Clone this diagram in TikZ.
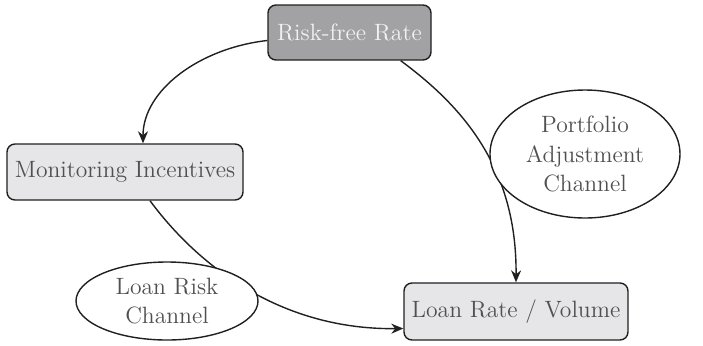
\documentclass[tikz,border=0pt]{standalone}
\usetikzlibrary{calc,shapes.geometric,arrows.meta}
\definecolor{txtgray}{HTML}{505050}
\definecolor{darkfill}{HTML}{A2A2A4}
\definecolor{lightfill}{HTML}{E6E6E8}
\definecolor{edge}{HTML}{202020}
\tikzset{
  box/.style={draw=edge, line width=0.7pt, rounded corners=4pt, fill=lightfill, text=txtgray, inner sep=0pt},
  darkbox/.style={box, fill=darkfill, text=white!95!black},
  oval/.style={ellipse, draw=edge, line width=0.7pt, fill=white, text=txtgray, inner sep=0pt, align=center},
  conn/.style={line width=0.7pt, draw=edge, -{Stealth[length=6pt,width=5pt]}}
}
\begin{document}
\begin{tikzpicture}[x=0.5pt,y=-0.5pt, font=\fontsize{11.8}{14.8}\selectfont]
\useasboundingbox (0,0) rectangle (703,345);
\node[darkbox, minimum width=81.5pt, minimum height=27.5pt] (rf) at (349.5,32.5) {Risk-free Rate};
\node[box, minimum width=118pt, minimum height=28pt] (mon) at (125,172) {Monitoring Incentives};
\node[box, minimum width=112pt, minimum height=28.5pt] (lr) at (516,311.5) {Loan Rate / Volume};
% connectors
\draw[conn] ($(rf.west)+(0,8)$) .. controls (200,48) and (143,90) .. ($(mon.north)+(18,0)$);
\draw[conn] ($(rf.south east)+(-31,0)$) .. controls (465,108) and (517,170) .. (lr.north);
\draw[conn] ($(mon.south)+(25,0)$) .. controls (205,275) and (290,330) .. ($(lr.west)+(0,17)$);
% channel ovals on top
\node[oval, minimum width=95pt, minimum height=64pt] (pac) at (585,154) {Portfolio\\Adjustment\\Channel};
\node[oval, minimum width=91pt, minimum height=39pt] (lrc) at (167,301) {Loan Risk\\Channel};
\end{tikzpicture}
\end{document}
